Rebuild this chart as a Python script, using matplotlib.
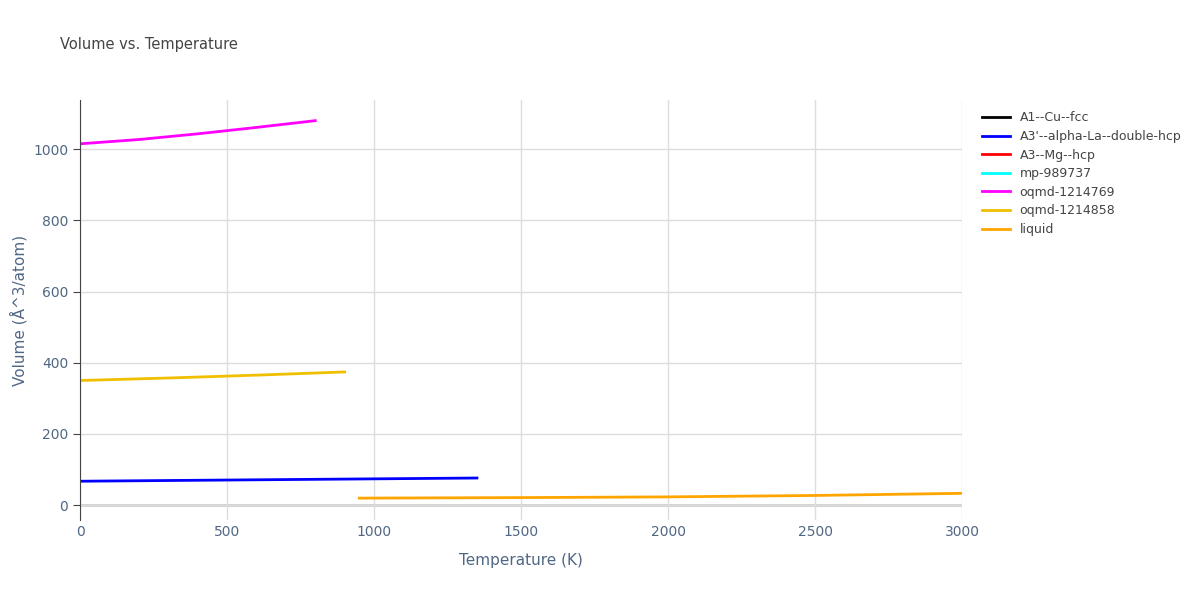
import numpy as np
import matplotlib
matplotlib.use("Agg")
import matplotlib.pyplot as plt

names = ["A1--Cu--fcc", "A3'--alpha-La--double-hcp", "A3--Mg--hcp", "mp-989737",
         "oqmd-1214769", "oqmd-1214858", "liquid"]
colors = ["#000000", "#0000ff", "#ff0000", "#00ffff", "#ff00ff", "#f0c000", "#ffa500"]
t_blue = [0, 450, 900, 1350]; v_blue = [67, 70, 73, 76]
t_mag = [0, 200, 400, 600, 800]; v_mag = [1015, 1027, 1043, 1061, 1080]
t_gold = [0, 300, 600, 900]; v_gold = [350, 357, 365, 374]
t_liq = [950, 1500, 2000, 2500, 3000]; v_liq = [19.5, 21, 23, 27, 33]

fig = plt.figure(figsize=(12, 6), dpi=100)
ax = fig.add_axes([0.0667, 0.1333, 0.735, 0.7])
series = {
    names[0]: ([], []), names[1]: (t_blue, v_blue), names[2]: ([], []),
    names[3]: ([], []), names[4]: (t_mag, v_mag), names[5]: (t_gold, v_gold),
    names[6]: (t_liq, v_liq),
}
for n, c in zip(names, colors):
    t, v = series[n]
    ax.plot(t, v, color=c, lw=2, label=n)

ax.set_xlim(0, 3000)
ax.set_ylim(-42, 1138)
ax.set_xticks([0, 500, 1000, 1500, 2000, 2500, 3000])
ax.set_yticks([0, 200, 400, 600, 800, 1000])
ax.grid(color="#dddddd", lw=1)
ax.axhline(0, color="#cccccc", lw=2, zorder=0)
for s in ["top", "right", "bottom"]:
    ax.spines[s].set_visible(False)
ax.spines["left"].set_color("#444444")
ax.tick_params(colors="#506784", labelsize=10, length=0)
ax.tick_params(axis="y", length=5, color="#444444")
ax.set_xlabel("Temperature (K)", color="#506784", fontsize=11, labelpad=10)
ax.set_ylabel("Volume (Å^3/atom)", color="#506784", fontsize=11)
fig.text(0.05, 0.925, "Volume vs. Temperature", color="#444444", fontsize=10.5, va="center")
leg = ax.legend(loc="upper left", bbox_to_anchor=(1.01, 1.0), frameon=False,
                fontsize=9, handlelength=2.2, labelspacing=0.45)
for t in leg.get_texts():
    t.set_color("#444444")
fig.savefig("out.png")
